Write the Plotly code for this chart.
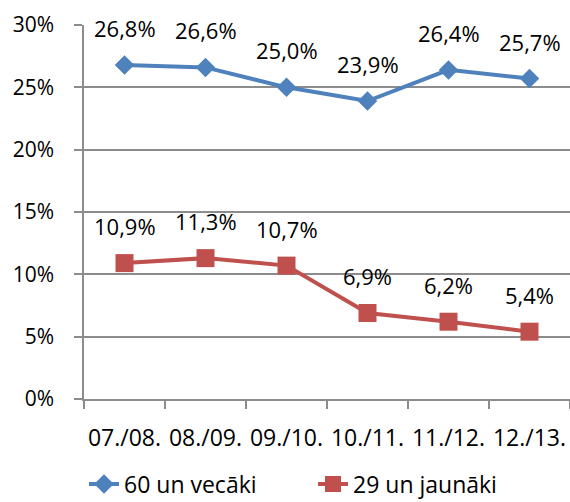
import plotly.graph_objects as go

categories = ["07./08.", "08./09.", "09./10.", "10./11.", "11./12.", "12./13."]
older = [26.8, 26.6, 25.0, 23.9, 26.4, 25.7]
younger = [10.9, 11.3, 10.7, 6.9, 6.2, 5.4]
series_names = ["60 un vecāki", "29 un jaunāki"]
y_ticks = [0, 5, 10, 15, 20, 25, 30]
y_tick_labels = ["0%", "5%", "10%", "15%", "20%", "25%", "30%"]

BLUE = "#4F81BD"
RED = "#C0504D"
GRID = "#8C8C8C"
FONT = "Open Sans, Lato, sans-serif"

fig = go.Figure()
fig.add_trace(go.Scatter(
    x=categories, y=older, name=series_names[0], mode="lines+markers",
    line=dict(color=BLUE, width=4),
    marker=dict(symbol="diamond", size=15, color=BLUE),
))
fig.add_trace(go.Scatter(
    x=categories, y=younger, name=series_names[1], mode="lines+markers",
    line=dict(color=RED, width=4),
    marker=dict(symbol="square", size=18, color=RED),
))

annotations = []
for vals in (older, younger):
    for c, v in zip(categories, vals):
        annotations.append(dict(
            x=c, y=v, text=f"{v:.1f}%".replace(".", ","), showarrow=False,
            yshift=37, font=dict(size=22, color="black", family=FONT),
        ))

fig.update_layout(
    width=570, height=502,
    margin=dict(l=84, r=0, t=25, b=103),
    paper_bgcolor="white", plot_bgcolor="white",
    font=dict(family=FONT, size=21, color="black"),
    annotations=annotations,
    showlegend=True,
    legend=dict(orientation="h", x=0.0, xanchor="left",
                yref="container", y=0.036, yanchor="middle",
                font=dict(size=23), tracegroupgap=0,
                entrywidth=184, entrywidthmode="pixels"),
    xaxis=dict(
        type="category", showline=True, linecolor=GRID, linewidth=1.5,
        ticks="outside", ticklen=8, tickcolor=GRID, tickwidth=1.5,
        tickson="boundaries", showgrid=False, range=[-0.5, 5.5],
        tickfont=dict(size=23), tickangle=0,
        automargin=False, ticklabelstandoff=18,
    ),
    yaxis=dict(
        range=[0, 30], tickvals=y_ticks, ticktext=y_tick_labels,
        showline=True, linecolor=GRID, linewidth=1.5,
        ticks="outside", ticklen=8, tickcolor=GRID, tickwidth=1.5,
        showgrid=True, gridcolor=GRID, gridwidth=1.5,
        zeroline=False, tickfont=dict(size=21), ticklabelstandoff=16,
        automargin=False,
    ),
)

fig.write_html("out.html", config={"displayModeBar": False},
               post_script="document.body.style.margin='0';")
